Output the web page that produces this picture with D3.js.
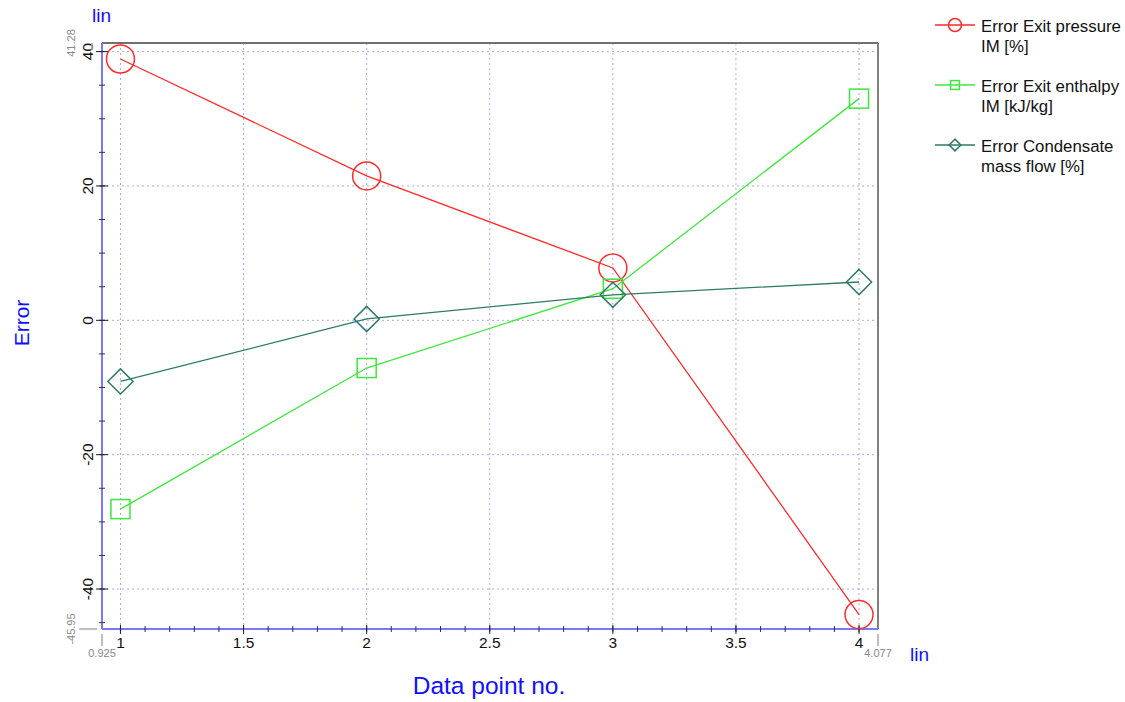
<!DOCTYPE html>
<html>
<head>
<meta charset="utf-8">
<script src="https://cdn.jsdelivr.net/npm/d3@7"></script>
<style>
  body { margin: 0; background: #fff; }
  svg { font-family: Arial, "Liberation Sans", sans-serif; }
</style>
</head>
<body>
<svg id="chart"></svg>
<script>
// data
const dataPoints = [1, 2, 3, 4];
const exitPressure = [38.9, 21.5, 7.8, -43.8];
const exitEnthalpy = [-28.1, -7.1, 4.7, 33.0];
const condensateFlow = [-9.1, 0.2, 3.8, 5.7];

const seriesNames = [
  ['Error Exit pressure', 'IM [%]'],
  ['Error Exit enthalpy', 'IM [kJ/kg]'],
  ['Error Condensate', 'mass flow [%]']
];
const xTicks = [1, 1.5, 2, 2.5, 3, 3.5, 4];
const yTicks = [-40, -20, 0, 20, 40];
const xDomain = [0.925, 4.077];
const yDomain = [-45.95, 41.28];

const W = 1125, H = 702;
const margin = { top: 43, right: 247, bottom: 73, left: 102 };
const width = W - margin.left - margin.right;
const height = H - margin.top - margin.bottom;

const svg = d3.select('#chart')
  .attr('width', W)
  .attr('height', H);

const g = svg.append('g')
  .attr('transform', `translate(${margin.left}, ${margin.top})`);

const xScale = d3.scaleLinear().domain(xDomain).range([0, width]);
const yScale = d3.scaleLinear().domain(yDomain).range([height, 0]);

// grid
g.append('g')
  .selectAll('line')
  .data(xTicks)
  .join('line')
  .attr('x1', d => xScale(d)).attr('x2', d => xScale(d))
  .attr('y1', 0).attr('y2', height)
  .attr('stroke', '#a8a8f0').attr('stroke-dasharray', '2,3');

g.append('g')
  .selectAll('line')
  .data(yTicks)
  .join('line')
  .attr('y1', d => yScale(d)).attr('y2', d => yScale(d))
  .attr('x1', 0).attr('x2', width)
  .attr('stroke', '#a8a8f0').attr('stroke-dasharray', '2,3');

// frame top / right
g.append('line').attr('x1', 0).attr('x2', width).attr('y1', 0).attr('y2', 0)
  .attr('stroke', '#707070').attr('stroke-width', 2);
g.append('line').attr('x1', width).attr('x2', width).attr('y1', 0).attr('y2', height)
  .attr('stroke', '#808080').attr('stroke-width', 2);

// axes lines
g.append('line').attr('x1', 0).attr('x2', width).attr('y1', height).attr('y2', height)
  .attr('stroke', '#7878ff').attr('stroke-width', 2);
g.append('line').attr('x1', 0).attr('x2', 0).attr('y1', 0).attr('y2', height)
  .attr('stroke', '#7878ff').attr('stroke-width', 2);

// minor ticks
const xMinor = d3.range(10, 41).map(d => d / 10);
g.append('g').selectAll('line').data(xMinor).join('line')
  .attr('x1', d => xScale(d)).attr('x2', d => xScale(d))
  .attr('y1', height - 3).attr('y2', height + 3)
  .attr('stroke', '#333');
const yMinor = d3.range(-45, 41, 5);
g.append('g').selectAll('line').data(yMinor).join('line')
  .attr('y1', d => yScale(d)).attr('y2', d => yScale(d))
  .attr('x1', -3).attr('x2', 3)
  .attr('stroke', '#333');

// major ticks + labels
const xAxis = g.append('g');
xAxis.selectAll('line').data(xTicks).join('line')
  .attr('x1', d => xScale(d)).attr('x2', d => xScale(d))
  .attr('y1', height - 4).attr('y2', height + 5)
  .attr('stroke', '#222');
xAxis.selectAll('text').data(xTicks).join('text')
  .attr('x', d => xScale(d)).attr('y', height + 19)
  .attr('text-anchor', 'middle')
  .attr('font-size', 15.5)
  .attr('fill', '#111')
  .text(d => d);

const yAxis = g.append('g');
yAxis.selectAll('line').data(yTicks).join('line')
  .attr('y1', d => yScale(d)).attr('y2', d => yScale(d))
  .attr('x1', -6).attr('x2', 6)
  .attr('stroke', '#222');
yAxis.selectAll('text').data(yTicks).join('text')
  .attr('transform', d => `translate(-9, ${yScale(d)}) rotate(-90)`)
  .attr('text-anchor', 'middle')
  .attr('font-size', 15.5)
  .attr('fill', '#111')
  .text(d => d);

// extent labels in gray
g.append('text')
  .attr('transform', `translate(-27, ${yScale(yDomain[1])}) rotate(-90)`)
  .attr('text-anchor', 'middle').attr('font-size', 11).attr('fill', '#888')
  .text(yDomain[1]);
g.append('text')
  .attr('transform', `translate(-27, ${yScale(yDomain[0])}) rotate(-90)`)
  .attr('text-anchor', 'middle').attr('font-size', 11).attr('fill', '#888')
  .text(yDomain[0]);
g.append('line').attr('x1', -23).attr('x2', -5)
  .attr('y1', yScale(yDomain[0])).attr('y2', yScale(yDomain[0]))
  .attr('stroke', '#aaa').attr('stroke-width', 1.5);
g.append('line').attr('x1', -10).attr('x2', -10)
  .attr('y1', yScale(yDomain[1])).attr('y2', yScale(yDomain[1]) + 7)
  .attr('stroke', '#aaa').attr('stroke-width', 1.5);

g.append('text')
  .attr('x', xScale(xDomain[0])).attr('y', height + 28)
  .attr('text-anchor', 'middle').attr('font-size', 11).attr('fill', '#888')
  .text(xDomain[0]);
g.append('text')
  .attr('x', xScale(xDomain[1])).attr('y', height + 28)
  .attr('text-anchor', 'middle').attr('font-size', 11).attr('fill', '#888')
  .text(xDomain[1]);
[xDomain[0], xDomain[1]].forEach(v => {
  g.append('line').attr('x1', xScale(v)).attr('x2', xScale(v))
    .attr('y1', height + 5).attr('y2', height + 17)
    .attr('stroke', '#aaa').attr('stroke-width', 1.5);
});

// axis titles
svg.append('text').attr('x', 92).attr('y', 22)
  .attr('font-size', 19).attr('fill', '#1010ff').text('lin');
svg.append('text').attr('x', 910).attr('y', 661)
  .attr('font-size', 19).attr('fill', '#1010ff').text('lin');
svg.append('text')
  .attr('transform', 'translate(29, 323) rotate(-90)')
  .attr('text-anchor', 'middle')
  .attr('font-size', 21).attr('fill', '#1010ff').text('Error');
svg.append('text').attr('x', 489).attr('y', 694)
  .attr('text-anchor', 'middle')
  .attr('font-size', 24.5).attr('fill', '#1010ff').text('Data point no.');

// series
const series = [
  { values: exitPressure, color: '#ff2a2a', shape: 'circle' },
  { values: exitEnthalpy, color: '#3ce83c', shape: 'square' },
  { values: condensateFlow, color: '#2e7a66', shape: 'diamond' }
];

const line = d3.line()
  .x(d => xScale(d[0]))
  .y(d => yScale(d[1]));

function marker(sel, shape, color, size) {
  if (shape === 'circle') {
    sel.append('circle').attr('r', size).attr('fill', 'none')
      .attr('stroke', color).attr('stroke-width', 1.5);
  } else if (shape === 'square') {
    const s = size * 0.68;
    sel.append('rect').attr('x', -s).attr('y', -s).attr('width', 2 * s).attr('height', 2 * s)
      .attr('fill', 'none').attr('stroke', color).attr('stroke-width', 1.5);
  } else {
    const s = size * 0.9;
    sel.append('path').attr('d', `M0,${-s}L${s},0L0,${s}L${-s},0Z`)
      .attr('fill', 'none').attr('stroke', color).attr('stroke-width', 1.5);
  }
}

series.forEach(s => {
  const pts = dataPoints.map((x, i) => [x, s.values[i]]);
  g.append('path').datum(pts)
    .attr('fill', 'none').attr('stroke', s.color).attr('stroke-width', 1.3)
    .attr('d', line);
  pts.forEach(p => {
    const m = g.append('g').attr('transform', `translate(${xScale(p[0])}, ${yScale(p[1])})`);
    marker(m, s.shape, s.color, 14);
  });
});

// legend
const legend = svg.append('g').attr('transform', 'translate(935, 25)');
series.forEach((s, i) => {
  const row = legend.append('g').attr('transform', `translate(0, ${i * 60})`);
  row.append('line').attr('x1', 0).attr('x2', 40).attr('y1', 0).attr('y2', 0)
    .attr('stroke', s.color).attr('stroke-width', 1.3);
  const m = row.append('g').attr('transform', 'translate(20, 0)');
  marker(m, s.shape, s.color, 6.5);
  row.append('text').attr('x', 46).attr('y', 7)
    .attr('font-size', 16.8).attr('fill', '#111').text(seriesNames[i][0]);
  row.append('text').attr('x', 46).attr('y', 27)
    .attr('font-size', 16.8).attr('fill', '#111').text(seriesNames[i][1]);
});
</script>
</body>
</html>
